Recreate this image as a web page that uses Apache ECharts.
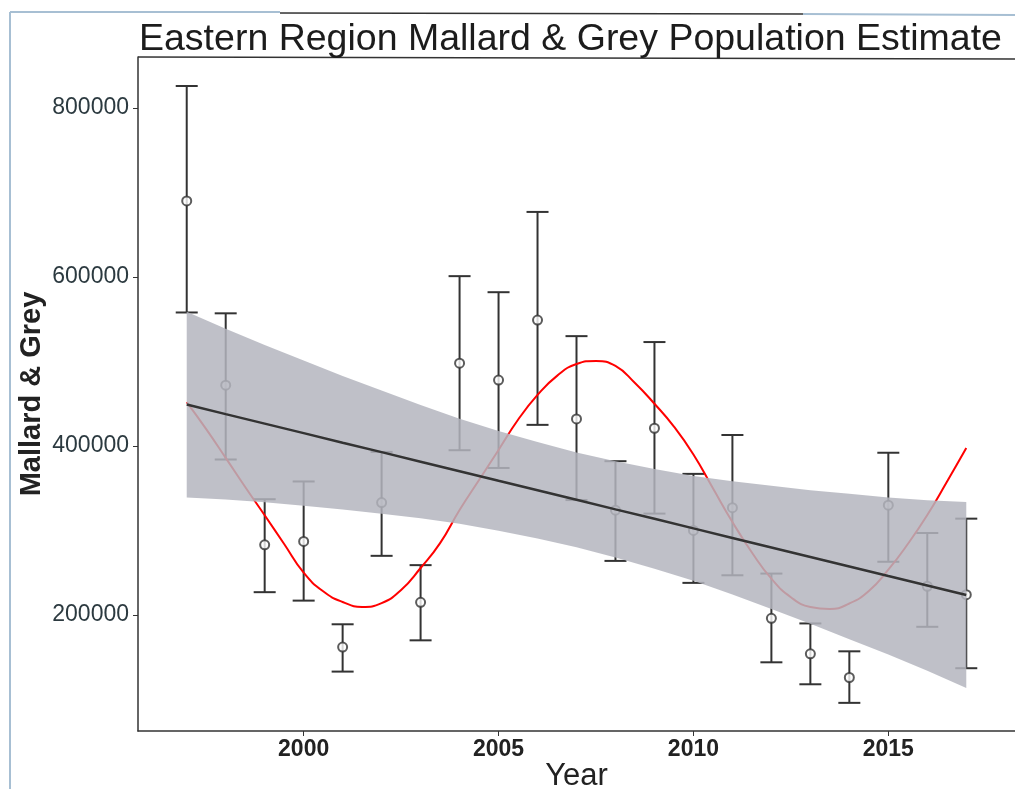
<!DOCTYPE html>
<html>
<head>
<meta charset="utf-8">
<script src="https://cdn.jsdelivr.net/npm/echarts@6/dist/echarts.min.js"></script>
<style>
  html, body { margin: 0; padding: 0; background: #fff; }
  #chart { width: 1015px; height: 789px; }
</style>
</head>
<body>
<div id="chart"></div>
<script>
// survey years and estimates (mean with lower / upper limits)
const years = [1997, 1998, 1999, 2000, 2001, 2002, 2003, 2004, 2005, 2006, 2007,
               2008, 2009, 2010, 2011, 2012, 2013, 2014, 2015, 2016, 2017];
const estMean = [690000, 472000, 283000, 287000, 162000, 333000, 215000, 498000, 478000, 549000, 432000,
                 324000, 421000, 300000, 327000, 196000, 154000, 126000, 330000, 234000, 224000];
const estLow  = [558000, 384000, 227000, 217000, 133000, 270000, 170000, 395000, 374000, 425000, 336000,
                 264000, 320000, 238000, 247000, 144000, 118000, 96000, 263000, 186000, 137000];
const estHigh = [826000, 557000, 337000, 358000, 189000, 393000, 259000, 601000, 582000, 677000, 530000,
                 382000, 523000, 367000, 413000, 249000, 190000, 157000, 392000, 297000, 314000];

// linear trend and its confidence band
const trendFit  = [449000, 437700, 426500, 415200, 403900, 392700, 381400, 370100, 358800, 347600, 336300,
                   325000, 313800, 302500, 291200, 279950, 268700, 257400, 246100, 234900, 223600];
const bandLow   = [339000, 336700, 333500, 329200, 324900, 319700, 314400, 308100, 299800, 290600, 280300,
                   268000, 254800, 240500, 224200, 206950, 189700, 171400, 153100, 133900, 113600];
const bandHigh  = [559000, 538700, 519500, 501200, 482900, 465700, 448400, 432100, 417800, 404600, 392300,
                   382000, 372800, 364500, 358200, 352950, 347700, 343400, 339100, 335900, 333600];

// red smooth curve, read every half year
const curveYears = [1997, 1997.5, 1998, 1998.5, 1999, 1999.5, 2000, 2000.5, 2001, 2001.5, 2002, 2002.5,
                    2003, 2003.5, 2004, 2004.5, 2005, 2005.5, 2006, 2006.5, 2007, 2007.5, 2008, 2008.5,
                    2009, 2009.5, 2010, 2010.5, 2011, 2011.5, 2012, 2012.5, 2013, 2013.5, 2014, 2014.5,
                    2015, 2015.5, 2016, 2016.5, 2017];
const curveVals  = [452000, 420000, 386000, 351500, 318000, 284000, 250000, 228000, 215400, 209500, 214000, 229600,
                    255600, 285000, 324300, 359800, 395300, 431000, 460400, 483000, 497000, 500600, 494700, 474600,
                    450000, 423000, 390000, 350000, 310000, 274000, 243000, 221000, 209500, 207100, 213600, 228400,
                    253600, 284000, 318300, 357400, 397600];

const xTicks = [2000, 2005, 2010, 2015];
const yTicks = [200000, 400000, 600000, 800000];

const FONT = 'Liberation Sans, Arial, sans-serif';
const INK = '#333';

let chart = echarts.init(document.getElementById('chart'));

// error bars with caps
function renderErrorBar(params, api) {
  let x = api.value(0);
  let pLo = api.coord([x, api.value(1)]);
  let pHi = api.coord([x, api.value(2)]);
  let hw = 11;
  let style = { stroke: INK, lineWidth: 2 };
  return {
    type: 'group',
    children: [
      { type: 'line', shape: { x1: pLo[0], y1: pLo[1], x2: pHi[0], y2: pHi[1] }, style: style },
      { type: 'line', shape: { x1: pHi[0] - hw, y1: pHi[1], x2: pHi[0] + hw, y2: pHi[1] }, style: style },
      { type: 'line', shape: { x1: pLo[0] - hw, y1: pLo[1], x2: pLo[0] + hw, y2: pLo[1] }, style: style }
    ]
  };
}

// confidence band as one polygon
function renderBand(params, api) {
  if (params.dataIndex !== 0) return null;
  let pts = [];
  for (let i = 0; i < years.length; i++) pts.push(api.coord([years[i], bandHigh[i]]));
  for (let i = years.length - 1; i >= 0; i--) pts.push(api.coord([years[i], bandLow[i]]));
  return {
    type: 'polygon',
    shape: { points: pts },
    style: { fill: 'rgba(180,181,190,0.85)' }
  };
}

let option = {
  animation: false,
  title: {
    text: 'Eastern Region Mallard & Grey Population Estimate',
    left: 134,
    top: 16,
    textStyle: { fontFamily: FONT, fontSize: 37.5, fontWeight: 'normal', color: '#1c1c1c' }
  },
  grid: { left: 138, right: 0, top: 57, bottom: 58, containLabel: false, outerBoundsMode: 'none' },
  xAxis: {
    type: 'value',
    min: 1995.75,
    max: 2018.25,
    name: 'Year',
    nameLocation: 'middle',
    nameGap: 30,
    nameMoveOverlap: false,
    nameTextStyle: { fontFamily: FONT, fontSize: 31, color: '#222' },
    axisLine: { onZero: false, lineStyle: { color: INK, width: 1.5 } },
    axisTick: { customValues: xTicks, length: 5, lineStyle: { color: INK } },
    axisLabel: {
      customValues: xTicks, fontFamily: FONT, fontSize: 23, fontWeight: 'bold', color: '#222', margin: 7,
      formatter: (v) => String(v)
    },
    splitLine: { show: false }
  },
  yAxis: {
    type: 'value',
    min: 62700,
    max: 860350,
    name: 'Mallard & Grey',
    nameLocation: 'middle',
    nameGap: 92,
    nameMoveOverlap: false,
    nameTextStyle: { fontFamily: FONT, fontSize: 29, fontWeight: 'bold', color: '#222' },
    axisLine: { onZero: false, lineStyle: { color: INK, width: 1.5 } },
    axisTick: { customValues: yTicks, length: 5, lineStyle: { color: INK } },
    axisLabel: {
      customValues: yTicks, fontFamily: FONT, fontSize: 23, color: '#2c3a40', margin: 9,
      formatter: (v) => String(v)
    },
    splitLine: { show: false }
  },
  graphic: [
    { type: 'line', silent: true, shape: { x1: 10, y1: 12, x2: 10, y2: 789 }, style: { stroke: '#a7bfd3', lineWidth: 2 } },
    { type: 'line', silent: true, shape: { x1: 10, y1: 12, x2: 280, y2: 12 }, style: { stroke: '#a7bfd3', lineWidth: 2 } },
    { type: 'line', silent: true, shape: { x1: 280, y1: 13, x2: 803, y2: 14 }, style: { stroke: INK, lineWidth: 1.5 } },
    { type: 'line', silent: true, shape: { x1: 803, y1: 14, x2: 1015, y2: 15 }, style: { stroke: '#a7bfd3', lineWidth: 2 } },
    { type: 'line', silent: true, shape: { x1: 138, y1: 57, x2: 1015, y2: 59 }, style: { stroke: INK, lineWidth: 1.5 } }
  ],
  series: [
    {
      name: 'limits',
      type: 'custom',
      z: 2,
      renderItem: renderErrorBar,
      encode: { x: 0, y: [1, 2] },
      data: years.map((y, i) => [y, estLow[i], estHigh[i]])
    },
    {
      name: 'estimate',
      type: 'scatter',
      z: 3,
      symbol: 'circle',
      symbolSize: 9,
      itemStyle: { color: '#fff', borderColor: INK, borderWidth: 2 },
      data: years.map((y, i) => [y, estMean[i]])
    },
    {
      name: 'smooth',
      type: 'line',
      z: 4,
      smooth: true,
      symbol: 'none',
      lineStyle: { color: '#ff0000', width: 2 },
      data: curveYears.map((y, i) => [y, curveVals[i]])
    },
    {
      name: 'band',
      type: 'custom',
      z: 5,
      renderItem: renderBand,
      encode: { x: 0, y: [1, 2] },
      data: years.map((y, i) => [y, bandLow[i], bandHigh[i]])
    },
    {
      name: 'trend',
      type: 'line',
      z: 6,
      symbol: 'none',
      lineStyle: { color: INK, width: 2.5 },
      data: years.map((y, i) => [y, trendFit[i]])
    }
  ]
};

chart.setOption(option);
</script>
</body>
</html>
